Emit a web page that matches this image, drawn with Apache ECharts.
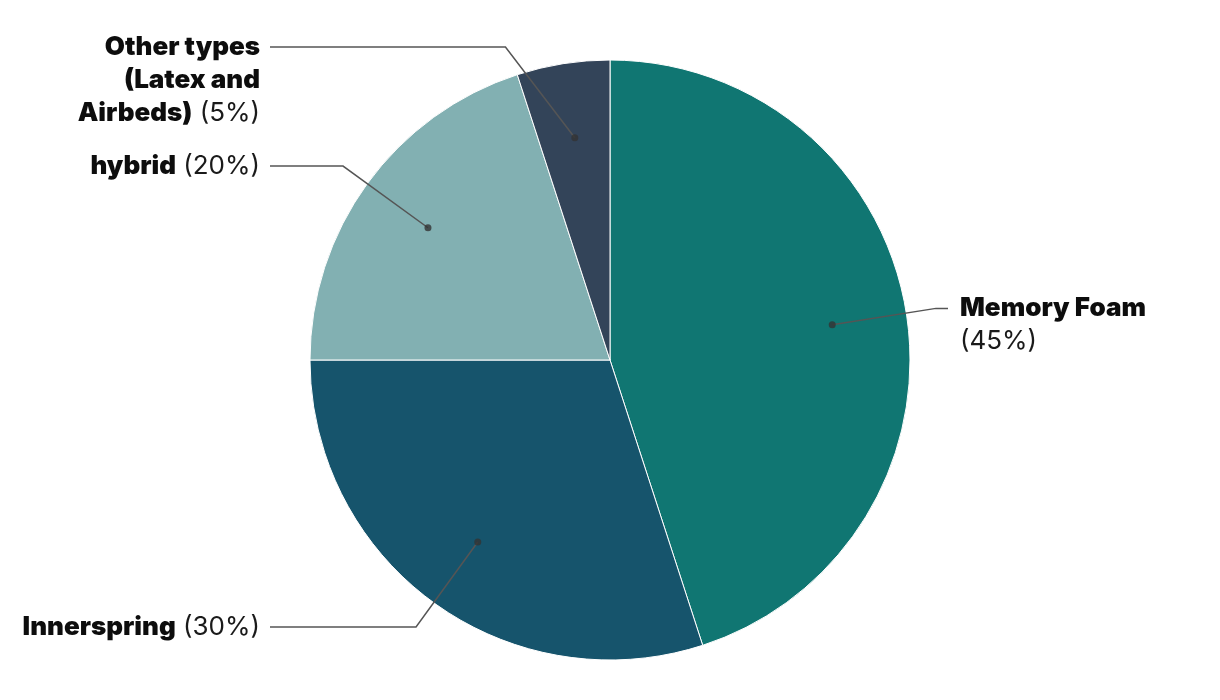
<!DOCTYPE html>
<html><head><meta charset="utf-8">
<script src="https://cdn.jsdelivr.net/npm/echarts@6/dist/echarts.min.js"></script>
<style>html,body{margin:0;padding:0;background:#fff}#c{width:1220px;height:700px}</style>
</head><body><div id="c"></div>
<script>
const categories = ['Memory Foam', 'Innerspring', 'hybrid', 'Other types (Latex and Airbeds)'];
const shares = [45, 30, 20, 5];
const colors = ['#107672', '#16546c', '#82b0b2', '#334459'];
const labelRows = [['Memory Foam'], ['Innerspring'], ['hybrid'], ['Other types', '(Latex and', 'Airbeds)']];
const pctOnNewLine = [true, false, false, false];

const total = shares.reduce((a, b) => a + b, 0);
let acc = 0;
const midPoints = shares.map(v => { const m = (acc + v / 2) / total * 100; acc += v; return m; });

const CX = 610, CY = 360, R = 300, RI = 225, LEN = 105, LH = 33;
const RL = RI + LEN;

const chart = echarts.init(document.getElementById('c'), null, {renderer: 'canvas'});
chart.setOption({
  animation: false,
  backgroundColor: '#fff',
  polar: {center: [CX, CY], radius: R},
  angleAxis: {type: 'value', min: 0, max: 100, startAngle: 90, clockwise: true, show: false},
  radiusAxis: {type: 'value', min: 0, max: R, show: false},
  series: [
    {
      type: 'pie', center: [CX, CY], radius: [0, R], startAngle: 90, clockwise: true,
      silent: true, label: {show: false}, labelLine: {show: false},
      itemStyle: {borderColor: '#fff', borderWidth: 1},
      data: categories.map((n, i) => ({name: n, value: shares[i], itemStyle: {color: colors[i]}}))
    },
    {
      type: 'pie', center: [CX, CY], radius: [0, RI], startAngle: 90, clockwise: true,
      silent: true, z: 5,
      itemStyle: {color: 'rgba(0,0,0,0)'},
      emphasis: {disabled: true},
      label: {
        show: true, position: 'outside',
        formatter: p => {
          const i = p.dataIndex;
          return labelRows[i].map(r => '{b|' + r + '}').join('\n') +
            (pctOnNewLine[i] ? '\n{p|(' : '{p| (') + shares[i] + '%)}';
        },
        rich: {
          b: {fontFamily: 'Inter', fontWeight: 900, fontSize: 26, color: '#0d0d0d', lineHeight: LH},
          p: {fontFamily: 'Inter', fontWeight: 400, fontSize: 26, color: '#1a1a1a', lineHeight: LH}
        }
      },
      labelLine: {show: true, length: LEN, length2: 20, lineStyle: {color: '#555', width: 1.5}},
      labelLayout: function (params) {
        const pts = params.labelLinePoints;
        if (!pts) return {};
        const isLeft = pts[1][0] < CX;
        const y = pts[1][1];
        const dy = y - CY;
        const bx = CX + (isLeft ? -1 : 1) * Math.sqrt(Math.max(0, RL * RL - dy * dy));
        return {
          x: isLeft ? 260 : 960,
          y: y - LH / 2,
          align: isLeft ? 'right' : 'left',
          verticalAlign: 'top',
          labelLinePoints: [pts[0], [bx, y], [isLeft ? 270 : 948, y]]
        };
      },
      data: categories.map((n, i) => ({name: n, value: shares[i]}))
    },
    {
      type: 'scatter', coordinateSystem: 'polar', silent: true, z: 10,
      symbol: 'circle', symbolSize: 7, itemStyle: {color: '#333'},
      data: midPoints.map(m => [RI, m])
    }
  ]
});
</script></body></html>
